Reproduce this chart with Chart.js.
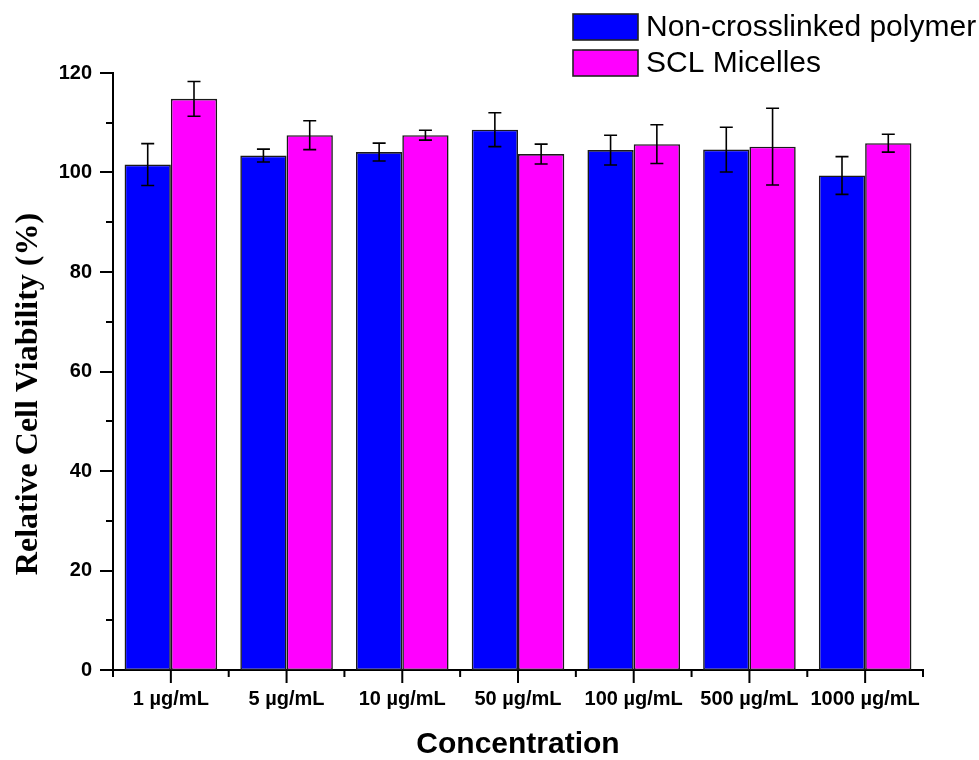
<!DOCTYPE html>
<html>
<head>
<meta charset="utf-8">
<script src="https://cdn.jsdelivr.net/npm/chart.js@4/dist/chart.umd.min.js"></script>
<style>
  html, body { margin: 0; padding: 0; background: #fff; }
  #wrap { width: 979px; height: 760px; }
</style>
</head>
<body>
<div id="wrap"><canvas id="chart" width="979" height="760"></canvas></div>
<script>
// Relative cell viability vs concentration

const CATEGORIES = ['1 µg/mL', '5 µg/mL', '10 µg/mL', '50 µg/mL', '100 µg/mL', '500 µg/mL', '1000 µg/mL'];
const SERIES_NAMES = ['Non-crosslinked polymer', 'SCL Micelles'];
const POLYMER = [101.6, 103.4, 104.1, 108.6, 104.5, 104.6, 99.4];
const POLYMER_ERR = [4.2, 1.3, 1.8, 3.4, 3.0, 4.5, 3.8];
const MICELLES = [114.8, 107.5, 107.5, 103.7, 105.7, 105.2, 105.9];
const MICELLES_ERR = [3.5, 2.9, 1.0, 2.0, 3.9, 7.7, 1.8];
const Y_TICKS = [0, 20, 40, 60, 80, 100, 120];

const ERRORS = [POLYMER_ERR, MICELLES_ERR];

// error bars, minor/major ticks, legend, y title
const extras = {
  id: 'extras',
  afterDatasetsDraw(chart) {
    const ctx = chart.ctx;
    const y = chart.scales.y;
    ctx.save();
    ctx.strokeStyle = '#000';
    ctx.lineWidth = 1.6;
    chart.data.datasets.forEach((ds, di) => {
      const meta = chart.getDatasetMeta(di);
      meta.data.forEach((bar, i) => {
        const v = ds.data[i], e = ERRORS[di][i];
        const top = y.getPixelForValue(v + e);
        const bot = y.getPixelForValue(v - e);
        const cx = bar.x;
        ctx.beginPath();
        ctx.moveTo(cx, top); ctx.lineTo(cx, bot);
        ctx.moveTo(cx - 6.5, top); ctx.lineTo(cx + 6.5, top);
        ctx.moveTo(cx - 6.5, bot); ctx.lineTo(cx + 6.5, bot);
        ctx.stroke();
      });
    });
    ctx.restore();
  },
  afterDraw(chart) {
    const ctx = chart.ctx;
    const { x, y } = chart.scales;
    const area = chart.chartArea;
    ctx.save();
    ctx.strokeStyle = '#000';
    ctx.lineWidth = 2;
    ctx.beginPath();
    // y ticks, minor every 10
    for (let v = 0; v <= 120; v += 10) {
      const py = Math.round(y.getPixelForValue(v));
      const len = v % 20 === 0 ? 13 : 7;
      ctx.moveTo(area.left, py); ctx.lineTo(area.left - len, py);
    }
    // x ticks: major at centres, minor at boundaries
    const n = CATEGORIES.length;
    for (let i = 0; i < n; i++) {
      const px = x.getPixelForValue(i);
      ctx.moveTo(px, area.bottom); ctx.lineTo(px, area.bottom + 13);
    }
    for (let i = 0; i <= n; i++) {
      const px = x.getPixelForValue(i - 0.5);
      ctx.moveTo(px, area.bottom); ctx.lineTo(px, area.bottom + 7);
    }
    ctx.stroke();

    // legend
    ctx.font = '30px "Liberation Sans", Arial, sans-serif';
    ctx.textBaseline = 'middle';
    ctx.textAlign = 'left';
    chart.data.datasets.forEach((ds, di) => {
      const top = 14 + di * 36;
      ctx.fillStyle = ds.backgroundColor;
      ctx.fillRect(573, top, 65, 26);
      ctx.lineWidth = 1.6;
      ctx.strokeStyle = '#222';
      ctx.strokeRect(573, top, 65, 26);
      ctx.fillStyle = '#000';
      ctx.fillText(ds.label, 646, top + 14);
    });

    // y axis title
    ctx.translate(29, 394);
    ctx.rotate(-Math.PI / 2);
    ctx.textAlign = 'center';
    ctx.font = 'bold 32px "Liberation Serif", "Times New Roman", serif';
    ctx.fillStyle = '#000';
    ctx.fillText('Relative Cell Viability (%)', 0, 0);
    ctx.restore();
  }
};

new Chart(document.getElementById('chart'), {
  type: 'bar',
  data: {
    labels: CATEGORIES,
    datasets: [
      { label: SERIES_NAMES[0], data: POLYMER, backgroundColor: '#0000ff', borderColor: '#1a1a1a', borderWidth: 1.6, borderSkipped: false },
      { label: SERIES_NAMES[1], data: MICELLES, backgroundColor: '#ff00ff', borderColor: '#1a1a1a', borderWidth: 1.6, borderSkipped: false }
    ]
  },
  options: {
    responsive: false,
    animation: false,
    devicePixelRatio: 1,
    layout: { padding: { left: 0, right: 56, top: 73, bottom: 0 } },
    datasets: { bar: { categoryPercentage: 0.8, barPercentage: 1.0 } },
    plugins: { legend: { display: false }, tooltip: { enabled: false } },
    scales: {
      x: {
        grid: { display: false, drawTicks: false },
        border: { display: true, color: '#000', width: 2 },
        ticks: { color: '#000', padding: 17, maxRotation: 0, autoSkip: false,
          font: { family: '"Liberation Sans", Arial, sans-serif', size: 20, weight: 'bold' } },
        title: { display: true, text: 'Concentration', color: '#000', padding: 0,
          font: { family: '"Liberation Sans", Arial, sans-serif', size: 30, weight: 'bold', lineHeight: 1.0 } },
        afterFit(scale) { scale.height = 90; }
      },
      y: {
        min: 0, max: 120,
        afterBuildTicks(scale) { scale.ticks = Y_TICKS.map(v => ({ value: v })); },
        grid: { display: false, drawTicks: false },
        border: { display: true, color: '#000', width: 2 },
        ticks: { color: '#000', padding: 21,
          font: { family: '"Liberation Sans", Arial, sans-serif', size: 20, weight: 'bold' } },
        afterFit(scale) { scale.width = 113; }
      }
    }
  },
  plugins: [extras]
});
</script>
</body>
</html>
